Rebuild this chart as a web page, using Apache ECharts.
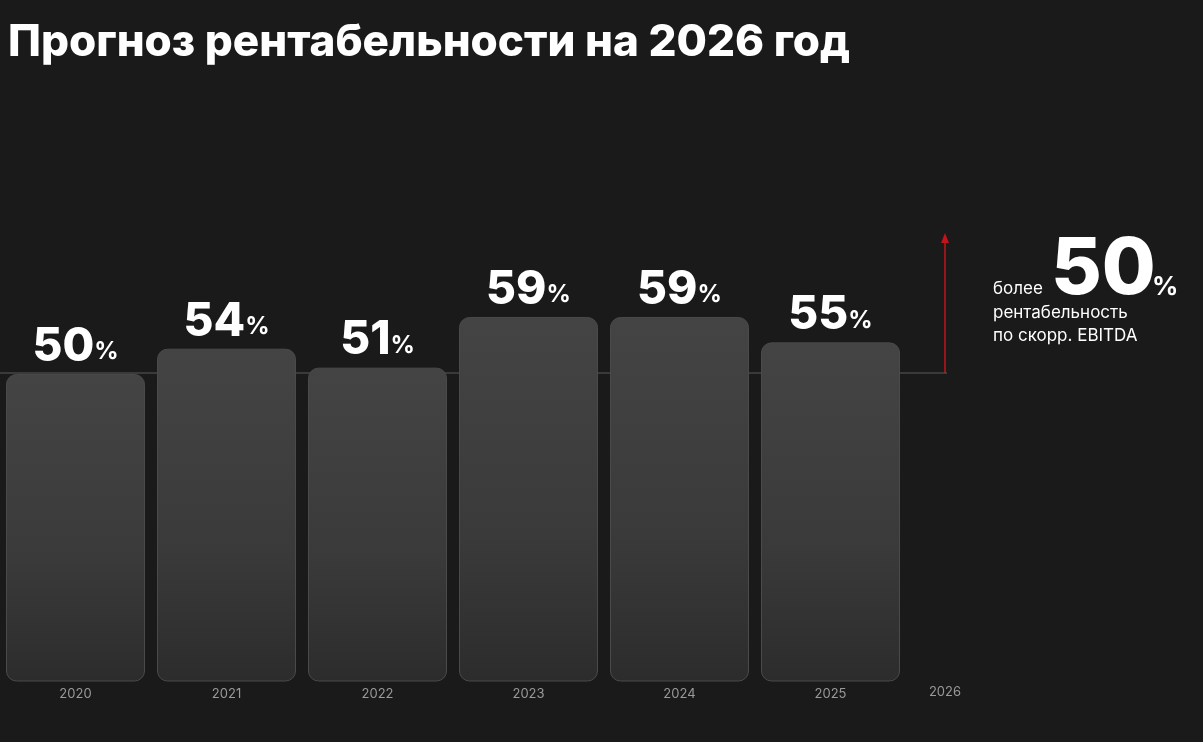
<!DOCTYPE html>
<html><head><meta charset="utf-8">
<script src="https://cdn.jsdelivr.net/npm/echarts@6/dist/echarts.min.js"></script>
<style>html,body{margin:0;padding:0;background:#1a1a1a}#c{width:1203px;height:742px}</style>
</head><body><div id="c"></div>
<script>
const categories = ['2020','2021','2022','2023','2024','2025'];
const values = [50, 54, 51, 59, 59, 55];
const forecastYear = '2026';
const forecastValue = 50;
const F = 'Inter, "Noto Sans", sans-serif';
const chart = echarts.init(document.getElementById('c'));
chart.setOption({
  backgroundColor: '#1a1a1a',
  title: {text: 'Прогноз рентабельности на 2026 год', left: 3, top: 16,
    textStyle: {color: '#fff', fontSize: 44, fontWeight: 800, fontFamily: F}},
  grid: {left: -6, right: 1203 - 906, top: 57.5, bottom: 61},
  xAxis: {type: 'category', data: categories, axisLine: {show: false}, axisTick: {show: false},
    axisLabel: {color: '#9a9a9a', fontSize: 13, fontFamily: F, margin: 7}},
  yAxis: {type: 'value', min: 1.5, max: 100, show: false, splitLine: {show: false}},
  series: [{
    type: 'bar', data: values, barWidth: 139, z: 3,
    itemStyle: {borderRadius: 10, borderColor: '#4a4a4a', borderWidth: 1,
      color: new echarts.graphic.LinearGradient(0, 0, 0, 1, [
        {offset: 0, color: '#444444'}, {offset: 0.6, color: '#3a3a3a'}, {offset: 1, color: '#2c2c2c'}])},
    label: {show: true, position: 'top', distance: 4,
      formatter: p => '{n|' + p.value + '}{p|%}',
      rich: {n: {color: '#fff', fontSize: 46, fontWeight: 800, fontFamily: F},
             p: {color: '#fff', fontSize: 24, fontWeight: 700, fontFamily: F, padding: [10, 0, 0, 0]}}}
  }],
  graphic: [
    {type: 'line', shape: {x1: 0, y1: 373, x2: 947, y2: 373}, style: {stroke: '#5a5a5a', lineWidth: 1}, z: 1},
    {type: 'line', shape: {x1: 945, y1: 373, x2: 945, y2: 238}, style: {stroke: '#c0141a', lineWidth: 1.5}},
    {type: 'polygon', shape: {points: [[941, 243], [949, 243], [945, 233]]}, style: {fill: '#c0141a'}},
    {type: 'text', x: 945, y: 686, style: {text: forecastYear, fill: '#9a9a9a', fontSize: 13, fontFamily: F, align: 'center'}},
    {type: 'text', x: 993, y: 280, style: {text: 'более', fill: '#fff', fontSize: 17, fontFamily: F}},
    {type: 'text', x: 1051, y: 232, style: {text: String(forecastValue), fill: '#fff', fontSize: 78, fontWeight: 800, fontFamily: F}},
    {type: 'text', x: 1152, y: 274, style: {text: '%', fill: '#fff', fontSize: 26, fontWeight: 700, fontFamily: F}},
    {type: 'text', x: 993, y: 304, style: {text: 'рентабельность', fill: '#fff', fontSize: 17, fontFamily: F}},
    {type: 'text', x: 993, y: 327, style: {text: 'по скорр. EBITDA', fill: '#fff', fontSize: 17, fontFamily: F}}
  ]
});
</script></body></html>
